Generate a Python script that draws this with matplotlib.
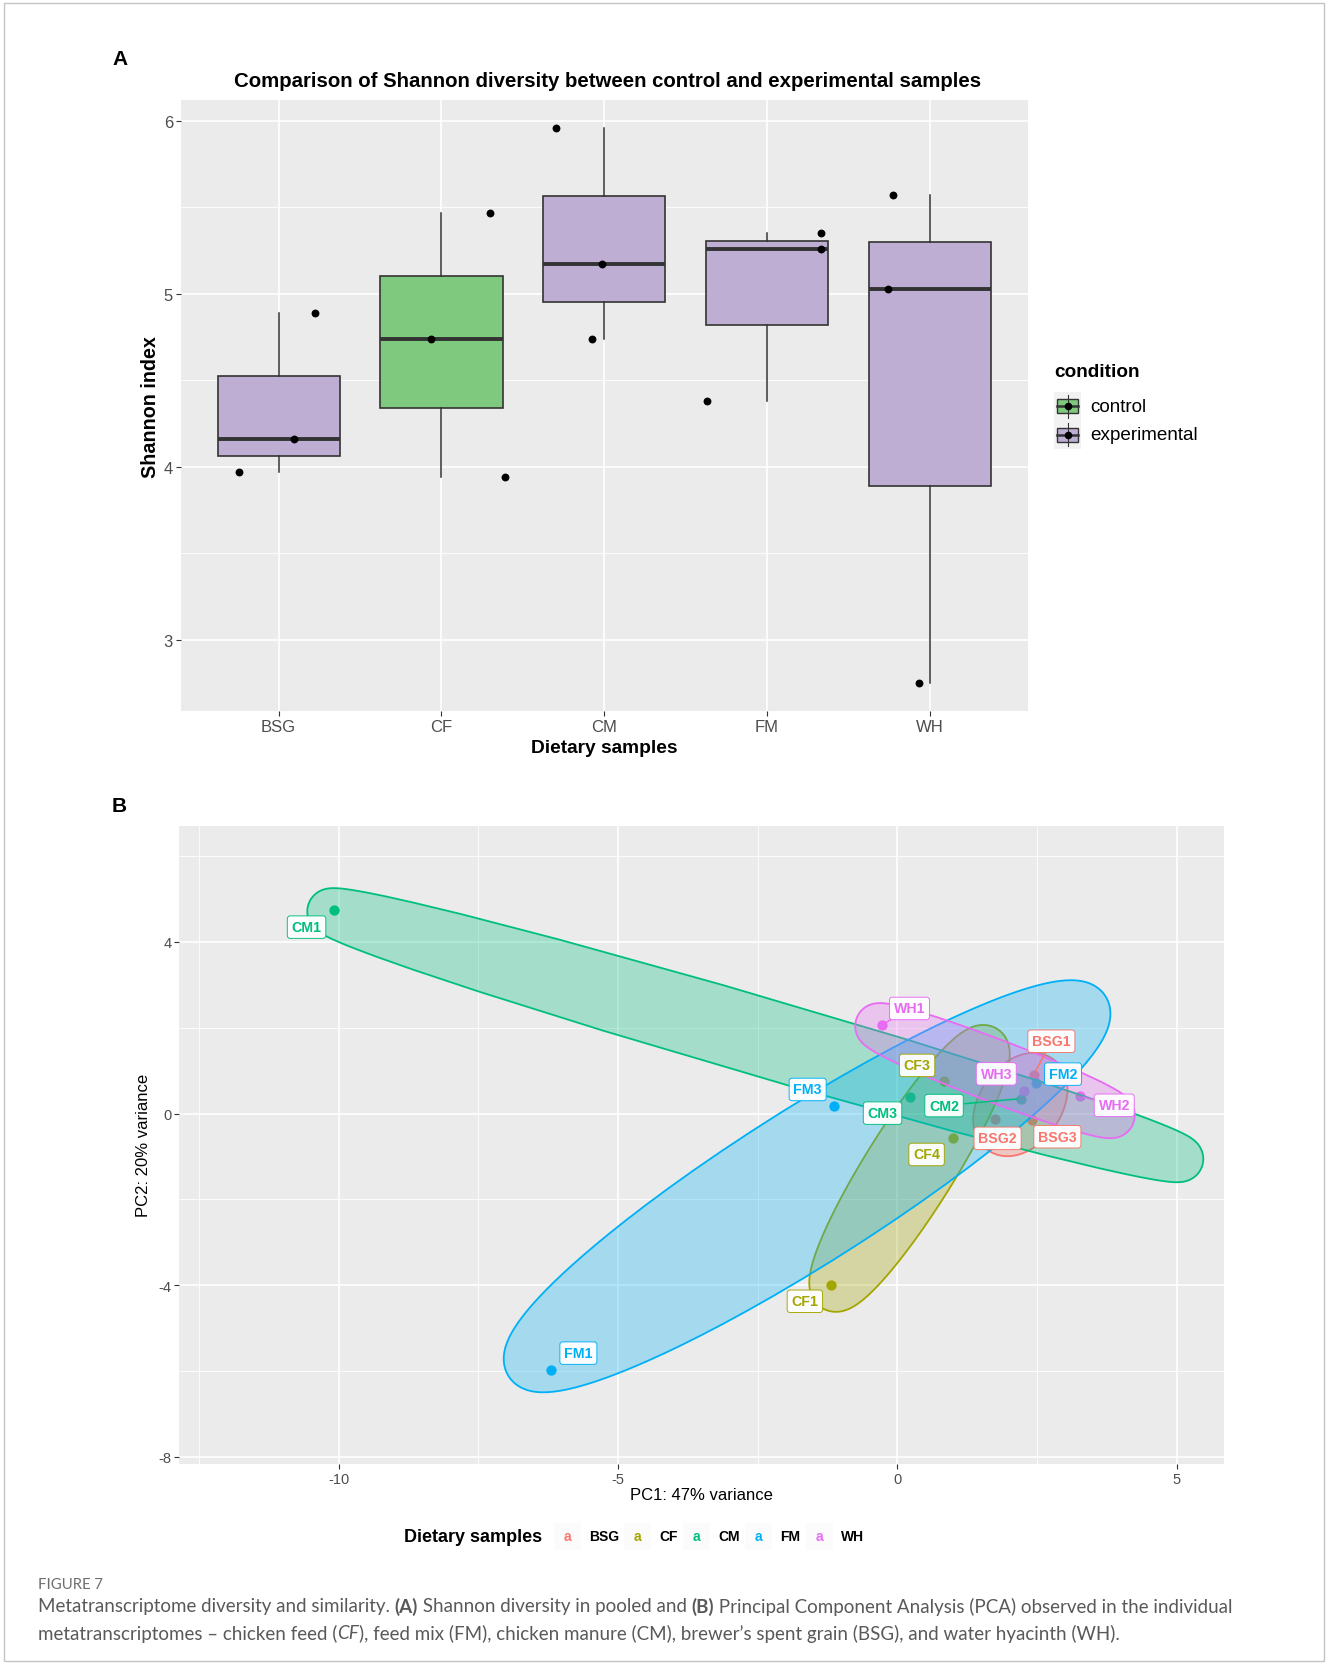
import numpy as np
import matplotlib.pyplot as plt
from matplotlib.colors import to_rgb
from matplotlib.patches import Rectangle, Polygon

plt.rcParams['font.family'] = ['Liberation Sans', 'DejaVu Sans']
plt.rcParams['axes.unicode_minus'] = False

W, H, DPI = 1328, 1665, 100

# ---- panel A: Shannon index of the pooled metatranscriptomes ----
samples = ['BSG', 'CF', 'CM', 'FM', 'WH']
sample_condition = ['experimental', 'control', 'experimental', 'experimental', 'experimental']
shannon_bsg = [3.97, 4.16, 4.89]
shannon_cf = [4.74, 5.47, 3.94]
shannon_cm = [5.96, 5.17, 4.74]
shannon_fm = [4.38, 5.35, 5.26]
shannon_wh = [5.57, 5.03, 2.75]
shannon = [shannon_bsg, shannon_cf, shannon_cm, shannon_fm, shannon_wh]

# ---- panel B: PCA scores of the individual metatranscriptomes ----
pca_names = [['BSG1', 'BSG2', 'BSG3'], ['CF1', 'CF3', 'CF4'], ['CM1', 'CM2', 'CM3'],
             ['FM1', 'FM2', 'FM3'], ['WH1', 'WH2', 'WH3']]
pc1 = [[2.44, 1.75, 2.41], [-1.18, 0.83, 1.00], [-10.08, 2.22, 0.23],
       [-6.20, 2.48, -1.13], [-0.28, 3.26, 2.26]]
pc2 = [[0.90, -0.12, -0.15], [-4.00, 0.75, -0.58], [4.74, 0.35, 0.39],
       [-5.97, 0.71, 0.18], [2.06, 0.41, 0.53]]
pc1_var, pc2_var = 47, 20

COND_COLORS = {'control': '#7FC97F', 'experimental': '#BEAED4'}
GROUP_COLORS = ['#F8766D', '#A3A500', '#00BF7D', '#00B0F6', '#E76BF3']

# jitter used for the points over the boxes (category units)
JITTER = [[-0.246, 0.092, 0.224], [-0.066, 0.296, 0.39], [-0.294, -0.017, -0.075],
          [-0.367, 0.333, 0.333], [-0.229, -0.257, -0.065]]
# repelled label placement, pixels from the point
LABEL_OFFSET = {
    'BSG1': (17.6, 33.7), 'BSG2': (2.4, -19.6), 'BSG3': (25.3, -16.7),
    'CF1': (-26.6, -16), 'CF3': (-26.7, 16), 'CF4': (-26.7, -16),
    'CM1': (-27.6, -17), 'CM2': (-77.4, -7), 'CM3': (-27.7, -16.3),
    'FM1': (27.4, 16.7), 'FM2': (27, 9), 'FM3': (-26.6, 16.4),
    'WH1': (27.7, 16.7), 'WH2': (34.7, -9.3), 'WH3': (-27.4, 17),
}
WITH_SEGMENT = {'WH1', 'BSG1', 'CM2', 'WH2'}
EXPAND_PX = 22

fig = plt.figure(figsize=(W / DPI, H / DPI), dpi=DPI)


def rect(l, t, r, b):
    return [l / W, 1 - b / H, (r - l) / W, (b - t) / H]


def gg_style(ax, size):
    ax.set_facecolor('#EBEBEB')
    for s in ax.spines.values():
        s.set_visible(False)
    ax.set_axisbelow(True)
    ax.grid(which='major', color='white', linewidth=1.2)
    ax.grid(which='minor', color='white', linewidth=0.6)
    ax.tick_params(which='major', length=3.3, width=0.8, color='#333333',
                   labelcolor='#4D4D4D', labelsize=size, pad=2.5)
    ax.tick_params(which='minor', length=0)


# panel A
axA = fig.add_axes(rect(181, 101, 1027.6, 712))
gg_style(axA, 12)
pos = np.arange(1, len(samples) + 1)
bp = axA.boxplot(shannon, positions=pos, widths=0.75, patch_artist=True,
                 showcaps=False, showfliers=False,
                 boxprops=dict(edgecolor='#333333', linewidth=1.2),
                 whiskerprops=dict(color='#333333', linewidth=1.1),
                 medianprops=dict(color='#333333', linewidth=2.8))
for patch, cond in zip(bp['boxes'], sample_condition):
    patch.set_facecolor(COND_COLORS[cond])
for i, vals in enumerate(shannon):
    axA.scatter(pos[i] + np.array(JITTER[i]), vals, s=32, color='black',
                linewidths=0, zorder=4)
allv = np.concatenate(shannon)
span = allv.max() - allv.min()
axA.set_ylim(allv.min() - 0.05 * span, allv.max() + 0.05 * span)
axA.set_xlim(0.4, len(samples) + 0.6)
axA.set_xticks(pos, samples)
axA.set_yticks([3, 4, 5, 6])
axA.set_yticks([3.5, 4.5, 5.5], minor=True)
axA.xaxis.grid(False, which='minor')

# panel B
axB = fig.add_axes(rect(179.4, 827, 1224, 1465))
gg_style(axB, 10.5)
axB.set_xlim(-12.85, 5.845)
axB.set_ylim(-8.164, 6.70)
axB.set_xticks([-10, -5, 0, 5])
axB.set_xticks([-12.5, -7.5, -2.5, 2.5], minor=True)
axB.set_yticks([-8, -4, 0, 4])
axB.set_yticks([-6, -2, 2, 6], minor=True)

for g in range(len(samples)):
    axB.scatter(pc1[g], pc2[g], s=55, color=GROUP_COLORS[g], linewidths=0, zorder=2)


def mark_ellipse(ax, xs, ys, color, n=360):
    # smallest ellipse around the group (centroid + scaled covariance),
    # grown outward by a fixed distance on screen
    pts = ax.transData.transform(np.column_stack([xs, ys]))
    m = pts.mean(axis=0)
    d = pts - m
    cov = d.T @ d / len(pts)
    r2 = np.einsum('ij,jk,ik->i', d, np.linalg.inv(cov), d).max()
    vals, vecs = np.linalg.eigh(cov * r2)
    A = vecs @ np.diag(np.sqrt(vals))
    # walk round by normal direction so the rounded tips stay smooth
    phi = np.linspace(0, 2 * np.pi, n, endpoint=False)
    nrm = np.column_stack([np.cos(phi), np.sin(phi)])
    u = nrm @ A
    u /= np.linalg.norm(u, axis=1, keepdims=True)
    edge = u @ A.T + m
    outer = ax.transData.inverted().transform(edge + EXPAND_PX * nrm)
    ax.add_patch(Polygon(outer, closed=True, facecolor=(*to_rgb(color), 0.3),
                         edgecolor=color, linewidth=1.3, zorder=3))


for g in range(len(samples)):
    mark_ellipse(axB, pc1[g], pc2[g], GROUP_COLORS[g])

for g in range(len(samples)):
    c = GROUP_COLORS[g]
    for name, x, y in zip(pca_names[g], pc1[g], pc2[g]):
        arrow = None
        if name in WITH_SEGMENT:
            arrow = dict(arrowstyle='-', color=c, lw=1.1, shrinkA=0, shrinkB=3)
        axB.annotate(name, (x, y), xytext=LABEL_OFFSET[name], textcoords='offset pixels',
                     ha='center', va='center', color=c, fontsize=10.2, fontweight='bold',
                     bbox=dict(boxstyle='round,pad=0.3,rounding_size=0.2', fc='white',
                               ec=c, lw=0.7, alpha=0.95),
                     arrowprops=arrow, zorder=6)

# overlay in pixel coordinates for titles, legends and caption
ov = fig.add_axes([0, 0, 1, 1], zorder=10)
ov.set_xlim(0, W)
ov.set_ylim(H, 0)
ov.axis('off')
ov.patch.set_visible(False)
renderer = fig.canvas.get_renderer()

ov.add_patch(Rectangle((4, 4), W - 8, H - 7, fill=False, ec='#C4C4C4', lw=1))

ov.text(112, 59.5, 'A', fontsize=15, fontweight='bold', va='center')
ov.text(112, 807, 'B', fontsize=15, fontweight='bold', va='center')
ov.text(607.5, 81.5, 'Comparison of Shannon diversity between control and experimental samples',
        fontsize=14.7, fontweight='bold', ha='center', va='center')
ov.text(604, 748.4, 'Dietary samples', fontsize=13.8, fontweight='bold', ha='center', va='center')
ov.text(150.7, 406.6, 'Shannon index', fontsize=14.2, fontweight='bold', ha='center',
        va='center', rotation=90)
ov.text(701.7, 1496, f'PC1: {pc1_var}% variance', fontsize=12, ha='center', va='center')
ov.text(143.3, 1145.5, f'PC2: {pc2_var}% variance', fontsize=12, ha='center', va='center',
        rotation=90)

# legend of panel A
ov.text(1054, 372.6, 'condition', fontsize=13.7, fontweight='bold', va='center')
kw, kh = 27, 28.7
for i, cond in enumerate(['control', 'experimental']):
    y0 = 392.7 + i * kh
    ov.add_patch(Rectangle((1054, y0), kw, kh, fc='#F2F2F2', ec='none'))
    cx = 1054 + kw / 2
    ov.plot([cx, cx], [y0 + 0.1 * kh, y0 + 0.9 * kh], color='#333333', lw=0.8)
    ov.add_patch(Rectangle((1054 + 0.1 * kw, y0 + 0.25 * kh), 0.8 * kw, 0.5 * kh,
                           fc=COND_COLORS[cond], ec='#333333', lw=1))
    ov.plot([1054 + 0.1 * kw, 1054 + 0.9 * kw], [y0 + kh / 2] * 2, color='#333333', lw=1.8)
    ov.scatter([cx], [y0 + kh / 2], s=30, color='black', linewidths=0, zorder=5)
    ov.text(1090.7, y0 + kh / 2, cond, fontsize=13.6, va='center')


def text_width(t):
    return t.get_window_extent(renderer).width


# legend of panel B
ly = 1537.5
lt = ov.text(404, ly, 'Dietary samples', fontsize=13, fontweight='bold', va='center')
x = 404 + text_width(lt) + 11.5
for g, s in enumerate(samples):
    ov.add_patch(Rectangle((x, ly - 13.5), 27, 27, fc='#FBFBFB', ec='none'))
    ov.text(x + 13.5, ly, 'a', fontsize=10, fontweight='bold', color=GROUP_COLORS[g],
            ha='center', va='center')
    t = ov.text(x + 35, ly, s, fontsize=10, fontweight='bold', va='center')
    x = x + 35 + text_width(t) + 5.5

# caption
CAP = dict(family=['Lato', 'DejaVu Sans'], color='#58595B', va='center', ha='left')


def part_width(txt, **kw):
    a = ov.text(0, 0, '|' + txt + '|', **kw)
    b = ov.text(0, 0, '||', **kw)
    w = text_width(a) - text_width(b)
    a.remove()
    b.remove()
    return w


def rich_line(x, y, parts, size):
    for txt, style in parts:
        kw = dict(CAP, fontsize=size,
                  fontweight='bold' if style == 'b' else 'normal',
                  fontstyle='italic' if style == 'i' else 'normal')
        ov.text(x, y, txt, **kw)
        x += part_width(txt, **kw)


ov.text(38, 1585, 'FIGURE 7', fontsize=10.7, **dict(CAP, color='#6D6E71'))
rich_line(38, 1607, [('Metatranscriptome diversity and similarity. ', 'n'), ('(A)', 'b'),
                     (' Shannon diversity in pooled and ', 'n'), ('(B)', 'b'),
                     (' Principal Component Analysis (PCA) observed in the individual', 'n')], 13.5)
rich_line(38, 1633.5, [('metatranscriptomes \u2013 chicken feed (', 'n'), ('CF', 'i'),
                       ('), feed mix (FM), chicken manure (CM), brewer\u2019s spent grain (BSG), '
                        'and water hyacinth (WH).', 'n')], 13.5)

fig.savefig('out.png', dpi=DPI)
